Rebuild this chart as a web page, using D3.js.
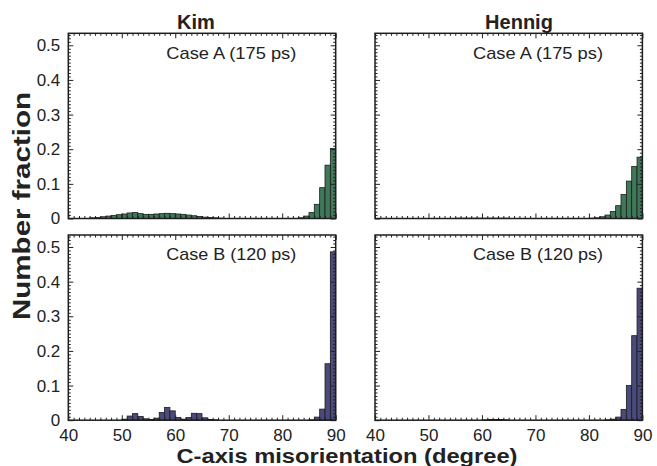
<!DOCTYPE html>
<html>
<head>
<meta charset="utf-8">
<script src="https://cdn.jsdelivr.net/npm/d3@7"></script>
<style>
  html, body { margin: 0; padding: 0; background: #fff; }
  svg { display: block; font-family: "Liberation Sans", Arial, Helvetica, sans-serif; }
</style>
</head>
<body>
<svg id="chart" width="657" height="466"></svg>
<script>
// ---- data (1-degree bins, bin start 40..89) ----
const binStarts = d3.range(40, 90, 1);
const kimA = [
  0, 0, 0, 0, 0.002, 0.003, 0.005, 0.007, 0.009, 0.011,
  0.013, 0.016, 0.017, 0.014, 0.012, 0.012, 0.013, 0.014, 0.015, 0.014,
  0.013, 0.012, 0.010, 0.008, 0.006, 0.004, 0.003, 0.002, 0.001, 0,
  0, 0, 0, 0, 0, 0, 0, 0, 0, 0,
  0, 0, 0, 0.002, 0.007, 0.017, 0.041, 0.089, 0.154, 0.202
];
const hennigA = [
  0, 0, 0, 0, 0, 0, 0, 0, 0, 0,
  0, 0, 0, 0, 0, 0.001, 0.001, 0.001, 0.001, 0.001,
  0.001, 0.001, 0.001, 0.001, 0.001, 0, 0, 0, 0, 0,
  0, 0, 0, 0, 0, 0, 0, 0, 0, 0,
  0.001, 0.002, 0.005, 0.010, 0.020, 0.037, 0.069, 0.108, 0.150, 0.177
];
const kimB = [
  0, 0, 0, 0, 0, 0, 0, 0, 0, 0,
  0.003, 0.012, 0.019, 0.011, 0.004, 0.002, 0.006, 0.022, 0.037, 0.027,
  0.008, 0.003, 0.008, 0.020, 0.019, 0.007, 0.002, 0.001, 0, 0,
  0, 0, 0, 0, 0, 0, 0, 0, 0, 0,
  0, 0, 0, 0, 0, 0.001, 0.009, 0.032, 0.163, 0.486
];
const hennigB = [
  0, 0, 0, 0, 0, 0, 0, 0, 0, 0,
  0, 0, 0, 0, 0, 0, 0, 0, 0, 0,
  0.001, 0.002, 0.002, 0.002, 0.001, 0, 0, 0, 0, 0,
  0, 0, 0, 0, 0, 0, 0, 0, 0, 0,
  0, 0, 0, 0.001, 0.003, 0.009, 0.031, 0.100, 0.244, 0.381
];
const columnTitles = ["Kim", "Hennig"];
const caseLabels = ["Case A (175 ps)", "Case B (120 ps)"];
const xTicks = [40, 50, 60, 70, 80, 90];
const yTicks = [0, 0.1, 0.2, 0.3, 0.4, 0.5];
const xLabel = "C-axis misorientation (degree)";
const yLabel = "Number fraction";

// ---- layout ----
const svg = d3.select("#chart");
const colX = [68.3, 375];
const rowY = [33.3, 235];
const pw = 267.4, ph = 185.2;
const colors = ["#40785a", "#4a4a7c"];

const panels = [
  { row: 0, col: 0, data: kimA },
  { row: 0, col: 1, data: hennigA },
  { row: 1, col: 0, data: kimB },
  { row: 1, col: 1, data: hennigB }
];

const x = d3.scaleLinear().domain([40, 90]).range([0, pw]);
const y = d3.scaleLinear().domain([0, 0.5346]).range([ph, 0]);
const fmtY = d => d === 0 ? "0" : d3.format(".1f")(d);

panels.forEach(p => {
  const g = svg.append("g").attr("transform", `translate(${colX[p.col]},${rowY[p.row]})`);

  // bars
  g.selectAll("rect.bar")
    .data(binStarts.map((b, i) => ({ b, v: p.data[i] })).filter(d => d.v > 0))
    .join("rect")
    .attr("class", "bar")
    .attr("x", d => x(d.b))
    .attr("width", d => x(d.b + 1) - x(d.b))
    .attr("y", d => y(d.v))
    .attr("height", d => y(0) - y(d.v))
    .attr("fill", colors[p.row])
    .attr("stroke", "#1c1c1c")
    .attr("stroke-width", 0.8);

  const minorX = d3.range(40, 91, 1).filter(v => v % 10 !== 0);
  const minorY = d3.range(0, 54).map(i => i / 100).filter(v => Math.round(v * 100) % 10 !== 0);

  const addAxis = (axis, tr) => {
    const a = g.append("g").attr("transform", tr).call(axis);
    a.select(".domain").remove();
    a.selectAll(".tick line").attr("stroke", "#222").attr("stroke-width", 1);
    a.selectAll(".tick text").attr("font-size", 17).attr("fill", "#222");
    return a;
  };

  // minor ticks all sides (inward)
  addAxis(d3.axisBottom(x).tickValues(minorX).tickSize(-2.5).tickFormat(""), `translate(0,${ph})`);
  addAxis(d3.axisTop(x).tickValues(minorX).tickSize(-2.5).tickFormat(""), `translate(0,0)`);
  addAxis(d3.axisLeft(y).tickValues(minorY).tickSize(-2.5).tickFormat(""), `translate(0,0)`);
  addAxis(d3.axisRight(y).tickValues(minorY).tickSize(-2.5).tickFormat(""), `translate(${pw},0)`);

  // major ticks
  const bx = addAxis(d3.axisBottom(x).tickValues(xTicks).tickSize(-5).tickPadding(9)
      .tickFormat(p.row === 1 ? d3.format("d") : () => ""), `translate(0,${ph})`);
  bx.selectAll(".tick text").attr("dy", "0.71em");
  addAxis(d3.axisTop(x).tickValues(xTicks).tickSize(-5).tickFormat(""), `translate(0,0)`);
  addAxis(d3.axisLeft(y).tickValues(yTicks).tickSize(-5).tickPadding(8)
      .tickFormat(p.col === 0 ? fmtY : () => ""), `translate(0,0)`);
  addAxis(d3.axisRight(y).tickValues(yTicks).tickSize(-5).tickFormat(""), `translate(${pw},0)`);

  // frame
  g.append("rect")
    .attr("x", 0).attr("y", 0).attr("width", pw).attr("height", ph)
    .attr("fill", "none").attr("stroke", "#1e1e1e").attr("stroke-width", 1.5);

  // case label
  g.append("text")
    .attr("x", 98).attr("y", p.row === 0 ? 25.5 : 24.5)
    .attr("font-size", 17).attr("fill", "#222")
    .attr("textLength", 130).attr("lengthAdjust", "spacingAndGlyphs")
    .text(caseLabels[p.row]);
});

// column titles
[196, 519].forEach((cx, i) => {
  svg.append("text")
    .attr("x", cx).attr("y", 29)
    .attr("text-anchor", "middle")
    .attr("font-size", 20).attr("font-weight", "bold").attr("fill", "#222")
    .text(columnTitles[i]);
});

// axis labels
svg.append("text")
  .attr("x", 347).attr("y", 463)
  .attr("text-anchor", "middle")
  .attr("font-size", 20).attr("font-weight", "bold").attr("fill", "#222")
  .attr("textLength", 341).attr("lengthAdjust", "spacingAndGlyphs")
  .text(xLabel);

svg.append("text")
  .attr("transform", "translate(30,206) rotate(-90)")
  .attr("text-anchor", "middle")
  .attr("font-size", 23).attr("font-weight", "bold").attr("fill", "#222")
  .attr("textLength", 228).attr("lengthAdjust", "spacingAndGlyphs")
  .text(yLabel);
</script>
</body>
</html>
